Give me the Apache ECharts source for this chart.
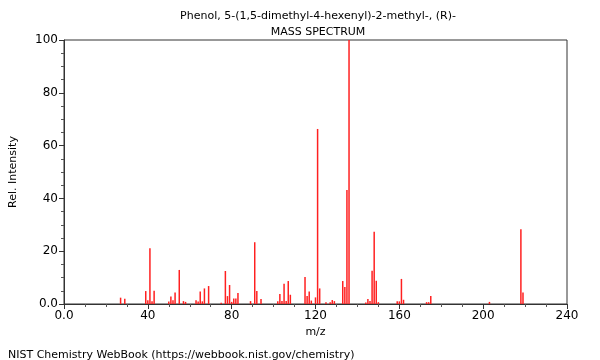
<!DOCTYPE html>
<html><head><meta charset="utf-8">
<script src="https://cdn.jsdelivr.net/npm/echarts@6/dist/echarts.min.js"></script>
<style>html,body{margin:0;padding:0;background:#fff}#c{width:600px;height:360px}</style>
</head><body><div id="c"></div>
<script>
const titleText = 'Phenol, 5-(1,5-dimethyl-4-hexenyl)-2-methyl-, (R)-';
const subtitleText = 'MASS SPECTRUM';
const footerText = 'NIST Chemistry WebBook (https://webbook.nist.gov/chemistry)';
const xAxisName = 'm/z';
const yAxisName = 'Rel. Intensity';
const mzValues = [27,29,39,40,41,42,43,50,51,52,53,55,57,58,63,64,65,66,67,69,75,77,78,79,80,81,82,83,89,91,92,94,102,103,104,105,106,107,108,115,116,117,118,120,121,122,125,127,128,129,133,134,135,136,144,145,146,147,148,149,150,159,160,161,162,173,174,175,203,218,219];
const intensities = [2.4,2.0,4.9,1.4,21.1,1.0,5.0,0.9,2.8,1.4,4.4,12.9,1.1,0.8,1.4,0.9,4.7,1.0,5.9,6.8,0.5,12.5,3.0,7.2,0.8,2.1,2.1,4.2,1.1,23.4,4.9,1.9,1.0,3.8,1.1,7.7,1.1,8.7,3.5,10.2,3.0,4.7,1.3,2.5,66.3,5.9,0.7,0.7,1.5,1.1,8.7,6.4,43.2,100,0.6,1.9,1.1,12.6,27.4,8.8,0.7,1.0,1.0,9.5,1.6,0.7,0.7,3.0,0.8,28.3,4.4];

const font = 'DejaVu Sans';
const chart = echarts.init(document.getElementById('c'), null, {renderer: 'canvas'});
chart.setOption({
  animation: false,
  backgroundColor: '#fff',
  title: [
    {text: titleText, left: 313, top: 6, textAlign: 'center', textStyle: {fontFamily: font, fontSize: 11, fontWeight: 'normal', color: '#000'}},
    {text: subtitleText, left: 313, top: 22, textAlign: 'center', textStyle: {fontFamily: font, fontSize: 11, fontWeight: 'normal', color: '#000'}},
    {text: footerText, left: 3, top: 345, textStyle: {fontFamily: font, fontSize: 11, fontWeight: 'normal', color: '#000'}}
  ],
  grid: {left: 62, right: 33, top: 40, bottom: 56, show: true, borderColor: '#333', borderWidth: 1, backgroundColor: 'transparent'},
  xAxis: {
    type: 'value', min: 0, max: 240, interval: 40,
    name: xAxisName, nameLocation: 'middle', nameGap: 23,
    nameTextStyle: {fontFamily: font, fontSize: 11, color: '#000'},
    axisLine: {show: true, lineStyle: {color: '#333'}},
    axisTick: {show: true, length: 5, lineStyle: {color: '#333'}},
    minorTick: {show: true, splitNumber: 4, length: 3, lineStyle: {color: '#555'}},
    splitLine: {show: false},
    axisLabel: {fontFamily: font, fontSize: 12, color: '#000', margin: 6,
      formatter: v => v === 0 ? '0.0' : String(v)}
  },
  yAxis: {
    type: 'value', min: 0, max: 100, interval: 20,
    name: yAxisName, nameLocation: 'middle', nameGap: 45, nameRotate: 90,
    nameTextStyle: {fontFamily: font, fontSize: 11, color: '#000'},
    axisLine: {show: true, lineStyle: {color: '#333'}},
    axisTick: {show: true, length: 5, lineStyle: {color: '#333'}},
    minorTick: {show: true, splitNumber: 4, length: 3, lineStyle: {color: '#555'}},
    splitLine: {show: false},
    axisLabel: {fontFamily: font, fontSize: 12, color: '#000', margin: 6,
      formatter: v => v === 0 ? '0.0' : String(v)}
  },
  series: [{
    type: 'bar',
    barWidth: 1.5,
    itemStyle: {color: '#ff2020'},
    data: mzValues.map((m, i) => [m, intensities[i]])
  }]
});
</script></body></html>
